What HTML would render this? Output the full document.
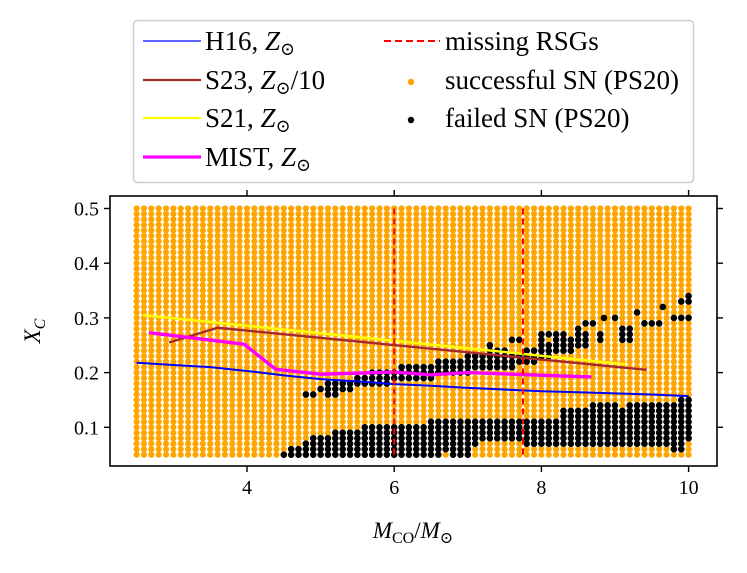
<!DOCTYPE html>
<html><head><meta charset="utf-8">
<style>
html,body{margin:0;padding:0;background:#fff;}
svg, svg text, svg tspan{font-family:"Liberation Serif","DejaVu Serif","Times New Roman",serif;}
</style></head>
<body>
<svg id="chart" width="747" height="568" viewBox="0 0 747 568" xmlns="http://www.w3.org/2000/svg" font-family="Liberation Serif, DejaVu Serif, serif">
<g id="dots"></g>
<g id="lines"></g>
<rect x="110" y="196" width="607" height="270" fill="none" stroke="#000" stroke-width="1.6"/>
<g id="ticks"></g>
<text x="413" y="538" font-size="23" text-anchor="middle" font-style="italic">M<tspan font-style="normal" font-size="16" dy="5">CO</tspan><tspan dy="-5" font-style="normal">/</tspan>M<tspan font-style="normal" font-size="16" dy="5">⊙</tspan></text>
<text transform="translate(40,331) rotate(-90)" font-size="23" text-anchor="middle" font-style="italic">X<tspan font-size="16" dy="5">C</tspan></text>
<g>
<rect x="133.5" y="20.5" width="560" height="162" rx="4" fill="#fff" fill-opacity="0.8" stroke="#ccc" stroke-width="1.5"/>
<g font-size="27">
<line x1="143" y1="41" x2="201" y2="41" stroke="#0000ff" stroke-width="1.3"/>
<text x="205" y="50">H16, <tspan font-style="italic">Z</tspan><tspan font-size="18" dy="5">⊙</tspan></text>
<line x1="143" y1="80" x2="201" y2="80" stroke="#a52a2a" stroke-width="2.2"/>
<text x="205" y="89">S23, <tspan font-style="italic">Z</tspan><tspan font-size="18" dy="5">⊙</tspan><tspan dy="-5">/10</tspan></text>
<line x1="143" y1="118" x2="201" y2="118" stroke="#ffff00" stroke-width="2.2"/>
<text x="205" y="127">S21, <tspan font-style="italic">Z</tspan><tspan font-size="18" dy="5">⊙</tspan></text>
<line x1="143" y1="157" x2="201" y2="157" stroke="#ff00ff" stroke-width="3.2"/>
<text x="205" y="166">MIST, <tspan font-style="italic">Z</tspan><tspan font-size="18" dy="5">⊙</tspan></text>
<line x1="384" y1="41" x2="440" y2="41" stroke="#ff0000" stroke-width="2" stroke-dasharray="7,4"/>
<text x="445" y="50">missing RSGs</text>
<circle cx="411" cy="82" r="3.2" fill="#ffa500"/>
<text x="445" y="89">successful SN (PS20)</text>
<circle cx="411" cy="120" r="3.2" fill="#000"/>
<text x="445" y="127">failed SN (PS20)</text>
</g></g>
</svg>
<script>
// ---- data ----
const xTicks = [4, 6, 8, 10];
const yTicks = [0.1, 0.2, 0.3, 0.4, 0.5];
const gridXmin = 2.5, gridXmax = 10.0, gridStepX = 0.1;
const gridYmin = 0.05, gridYmax = 0.50, gridStepY = 0.01;
// failed SN lower band: per-column [x, ylow, yhigh]
const bandX  = [4.5,4.6,4.7,4.8,4.9,5.0,5.1,5.2,5.3,5.4,5.5,5.6,5.7,5.8,5.9,6.0,6.1,6.2,6.3,6.4,6.5,6.6,6.7,6.8,6.9,7.0,7.1,7.2,7.3,7.4,7.5,7.6,7.7,7.8,7.9,8.0,8.1,8.2,8.3,8.4,8.5,8.6,8.7,8.8,8.9,9.0,9.1,9.2,9.3,9.4,9.5,9.6,9.7,9.8,9.9,10.0];
const bandLo = [0.05,0.05,0.05,0.05,0.05,0.05,0.05,0.05,0.05,0.05,0.05,0.05,0.05,0.05,0.05,0.05,0.05,0.05,0.05,0.05,0.05,0.05,0.06,0.05,0.05,0.05,0.07,0.08,0.08,0.08,0.08,0.08,0.08,0.07,0.07,0.07,0.07,0.07,0.07,0.07,0.07,0.07,0.07,0.07,0.07,0.07,0.07,0.07,0.07,0.07,0.07,0.07,0.07,0.06,0.06,0.08];
const bandHi = [0.05,0.06,0.06,0.07,0.08,0.08,0.08,0.09,0.09,0.09,0.09,0.10,0.10,0.10,0.10,0.10,0.10,0.10,0.10,0.10,0.11,0.11,0.11,0.11,0.11,0.11,0.11,0.11,0.11,0.11,0.11,0.11,0.11,0.11,0.11,0.11,0.11,0.11,0.13,0.13,0.13,0.13,0.14,0.14,0.14,0.14,0.13,0.14,0.14,0.14,0.14,0.14,0.14,0.14,0.15,0.15];
// failed SN upper scattered region: per-column ranges
const upX  = [4.8,4.9,5.0,5.1,5.2,5.3,5.4,5.5,5.6,5.7,5.8,5.9,6.0,6.1,6.2,6.3,6.4,6.5,6.6,6.7,6.8,6.9,7.0,7.1,7.2,7.3,7.4,7.5,7.6,7.7,7.8,7.9,8.0,8.1,8.2,8.3,8.4,8.5,8.6,8.8,9.1,9.2];
const upLo = [0.16,0.16,0.17,0.16,0.16,0.17,0.17,0.18,0.18,0.18,0.18,0.18,0.19,0.19,0.19,0.19,0.19,0.19,0.20,0.20,0.20,0.20,0.20,0.21,0.21,0.21,0.21,0.21,0.21,0.22,0.22,0.22,0.23,0.23,0.24,0.24,0.24,0.25,0.25,0.26,0.26,0.26];
const upHi = [0.16,0.16,0.17,0.18,0.18,0.18,0.18,0.19,0.19,0.20,0.20,0.20,0.20,0.21,0.21,0.21,0.21,0.21,0.22,0.22,0.22,0.22,0.23,0.23,0.23,0.24,0.24,0.24,0.23,0.23,0.24,0.24,0.27,0.25,0.26,0.26,0.26,0.28,0.27,0.27,0.28,0.28];
const extraX = [7.3,7.6,7.7,8.0,8.1,8.2,8.3,8.6,8.7,8.85,9.0,9.3,9.4,9.5,9.6,9.65,9.8,9.9,9.9,10.0,10.0,10.0];
const extraY = [0.25,0.26,0.26,0.27,0.27,0.27,0.27,0.29,0.29,0.30,0.30,0.31,0.29,0.29,0.29,0.32,0.30,0.30,0.33,0.30,0.33,0.34];
// model lines
const h16X = [2.5,3.0,3.5,4.0,4.5,5.0,5.5,6.0,6.5,7.0,7.5,8.0,8.5,9.0,9.5,10.0];
const h16Y = [0.218,0.214,0.21,0.203,0.195,0.188,0.184,0.179,0.176,0.172,0.169,0.166,0.164,0.162,0.160,0.157];
const s23X = [2.94,3.6,9.43];
const s23Y = [0.255,0.282,0.205];
const s21X = [2.59,9.15];
const s21Y = [0.305,0.215];
const mistX = [2.67,3.96,4.39,5.0,6.0,6.5,7.0,8.68];
const mistY = [0.273,0.252,0.206,0.197,0.201,0.196,0.200,0.192];
const rsgX = [6.0, 7.75];

// ---- axes ----
const X = v => 247 + (v - 4) * 73.6;
const Y = v => 427.3 - (v - 0.1) * 547;
const NS = "http://www.w3.org/2000/svg";
function mk(tag, attrs, parent){ const e=document.createElementNS(NS,tag); for(const k in attrs) e.setAttribute(k,attrs[k]); parent.appendChild(e); return e; }

const dots = document.getElementById('dots');
const nx = Math.round((gridXmax-gridXmin)/gridStepX), ny = Math.round((gridYmax-gridYmin)/gridStepY);
let d = '';
for(let i=0;i<=nx;i++){ for(let j=0;j<=ny;j++){ const cx=X(gridXmin+i*gridStepX), cy=Y(gridYmin+j*gridStepY); d += `M${cx-3.1},${cy}a3.1,3.1 0 1,0 6.2,0a3.1,3.1 0 1,0 -6.2,0`; } }
const sp = mk('path',{d:d,fill:'#ffa500'},dots);


let fd = '';
function addF(x,y){ const cx=X(x), cy=Y(y); fd += `M${cx-3.3},${cy}a3.3,3.3 0 1,0 6.6,0a3.3,3.3 0 1,0 -6.6,0`; }
for(let i=0;i<bandX.length;i++){ for(let y=bandLo[i]; y<=bandHi[i]+1e-6; y+=0.01) addF(bandX[i], y); }
for(let i=0;i<upX.length;i++){ for(let y=upLo[i]; y<=upHi[i]+1e-6; y+=0.01) addF(upX[i], y); }
for(let i=0;i<extraX.length;i++) addF(extraX[i], extraY[i]);
const fp = mk('path',{d:fd,fill:'#000'},dots);



const lines = document.getElementById('lines');
function poly(xs, ys, color, w, name){
  const p = mk('polyline',{points:xs.map((x,i)=>X(x)+','+Y(ys[i])).join(' '),fill:'none',stroke:color,'stroke-width':w,'stroke-linejoin':'round'},lines);
  
  
}
poly(s21X,s21Y,'#ffff00',2.4,'s21-line');
poly(s23X,s23Y,'#a52a2a',2.4,'s23-line');
poly(mistX,mistY,'#ff00ff',3.4,'mist-line');
poly(h16X,h16Y,'#0000ff',2,'h16-line');
rsgX.forEach(v=>{
  const l = mk('line',{x1:X(v),x2:X(v),y1:Y(0.5),y2:Y(0.045),stroke:'#ff0000','stroke-width':2,'stroke-dasharray':'6,4'},lines);
  
  
});

const tk = document.getElementById('ticks');
xTicks.forEach(v=>{
  mk('line',{x1:X(v),x2:X(v),y1:466,y2:472,stroke:'#000','stroke-width':1.4},tk);
  mk('line',{x1:X(v),x2:X(v),y1:190,y2:196,stroke:'#000','stroke-width':1.4},tk);
  const t = mk('text',{x:X(v),y:494,'font-size':20,'text-anchor':'middle'},tk);
  t.textContent = String(v);
  
  
});
yTicks.forEach(v=>{
  mk('line',{x1:104,x2:110,y1:Y(v),y2:Y(v),stroke:'#000','stroke-width':1.4},tk);
  mk('line',{x1:717,x2:723,y1:Y(v),y2:Y(v),stroke:'#000','stroke-width':1.4},tk);
  const t = mk('text',{x:99,y:Y(v)+7,'font-size':20,'text-anchor':'end'},tk);
  t.textContent = v.toFixed(1);
  
  
});
</script>
</body></html>
